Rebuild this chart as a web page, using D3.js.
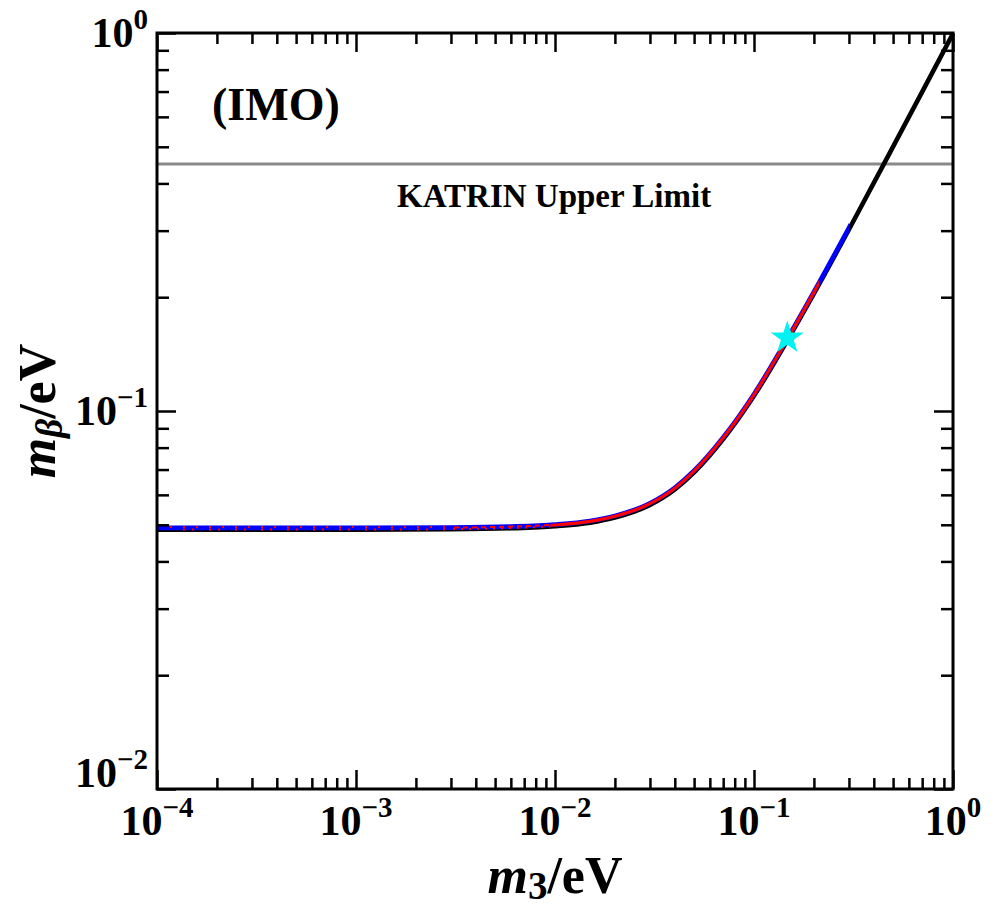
<!DOCTYPE html>
<html>
<head>
<meta charset="utf-8">
<script src="https://cdn.jsdelivr.net/npm/d3@7"></script>
<style>
  body { margin: 0; background: #fff; }
  text { font-family: "Liberation Serif", "Times New Roman", serif; font-weight: bold; fill: #000; }
</style>
</head>
<body>
<div id="chart"></div>
<script>
// lightest mass m3 (eV) and effective beta-decay mass m_beta (eV)
const m3Values    = [1e-4, 1e-3, 3e-3, 6e-3, 0.01, 0.015, 0.02, 0.03, 0.04, 0.05, 0.07, 0.1, 0.15, 0.2, 0.3, 0.5, 0.7, 1.0];
const mBetaValues = [0.0487, 0.0487, 0.0488, 0.0491, 0.0497, 0.0508, 0.0524, 0.0566, 0.0622, 0.0690, 0.0845, 0.110, 0.157, 0.205, 0.303, 0.502, 0.701, 1.0];

// coloured parts of the band (m3 ranges)
const blueRange = [1e-4, 0.30];
const redRange = [0.0095, 0.212];
const redSparseRange = [1.15e-4, 3e-3];
const redDenseRange = [3e-3, 0.0095];

const katrinLimit = 0.45;
const starPoint = {m3: 0.147, mb: 0.156};

const xExponents = [-4, -3, -2, -1, 0];
const yExponents = [-2, -1, 0];

const W = 997, H = 907;
const margin = {top: 33, right: 44, bottom: 118, left: 157};
const width = W - margin.left - margin.right,
  height = H - margin.top - margin.bottom;

const svg = d3.select("#chart")
  .append("svg")
  .attr("width", W)
  .attr("height", H);

const g = svg.append("g")
  .attr("transform", `translate(${margin.left},${margin.top})`);

const x = d3.scaleLog().domain([1e-4, 1]).range([0, width]);
const y = d3.scaleLog().domain([1e-2, 1]).range([height, 0]);

const data = m3Values.map((d, i) => ({m3: d, mb: mBetaValues[i]}));

const line = d3.line()
  .x(d => x(d.m3))
  .y(d => y(d.mb))
  .curve(d3.curveMonotoneX);

// clip paths for the coloured pieces
const defs = svg.append("defs");
function clipFor(id, range) {
  defs.append("clipPath").attr("id", id)
    .append("rect")
    .attr("x", x(range[0]))
    .attr("width", x(range[1]) - x(range[0]))
    .attr("y", -20)
    .attr("height", height + 40);
}
clipFor("clipBlue", blueRange);
clipFor("clipRed", redRange);
clipFor("clipRedSparse", redSparseRange);
clipFor("clipRedDense", redDenseRange);
defs.append("clipPath").attr("id", "clipPlot")
  .append("rect").attr("width", width).attr("height", height);

// KATRIN upper limit
g.append("line")
  .attr("x1", 0).attr("x2", width)
  .attr("y1", y(katrinLimit)).attr("y2", y(katrinLimit))
  .attr("stroke", "#8a8a8a")
  .attr("stroke-width", 3);

g.append("text")
  .attr("x", 240)
  .attr("y", 174)
  .style("font-size", "33px")
  .text("KATRIN Upper Limit");

g.append("text")
  .attr("x", 55)
  .attr("y", 87)
  .style("font-size", "46px")
  .text("(IMO)");

const curves = g.append("g").attr("clip-path", "url(#clipPlot)");

function drawPiece(clip, color, w, dash, dy) {
  const p = curves.append("g").attr("clip-path", clip ? `url(#${clip})` : null)
    .append("path")
    .datum(data)
    .attr("transform", `translate(0,${dy})`)
    .attr("fill", "none")
    .attr("stroke", color)
    .attr("stroke-width", w)
    .attr("d", line);
  if (dash) p.attr("stroke-dasharray", dash);
}

drawPiece(null, "#000", 4.6, null, 0.5);
drawPiece("clipBlue", "#0000ff", 4.6, null, -1.2);
drawPiece("clipRedSparse", "#ff0000", 2, "2,11", -2);
drawPiece("clipRedSparse", "#ff0000", 2, "2,7,2,15", 0.5);
drawPiece("clipRedDense", "#ff0000", 2, "5,4", -1.2);
drawPiece("clipRedDense", "#ff0000", 2, "2,6", 0.3);
drawPiece("clipRed", "#ff0000", 3.2, null, -0.8);

// best-fit star
g.append("path")
  .attr("d", d3.symbol().type(d3.symbolStar).size(340)())
  .attr("transform", `translate(${x(starPoint.m3)},${y(starPoint.mb)})`)
  .attr("fill", "#00f2f2");

// ticks on all four sides, pointing inward
const majorX = xExponents.map(e => Math.pow(10, e));
const majorY = yExponents.map(e => Math.pow(10, e));
function minors(exps) {
  const out = [];
  for (let i = 0; i < exps.length - 1; i++)
    for (let k = 2; k <= 9; k++) out.push(k * Math.pow(10, exps[i]));
  return out;
}
const minorX = minors(xExponents), minorY = minors(yExponents);

function tickAxis(axisFn, scale, vals, size, transform) {
  const a = g.append("g")
    .attr("transform", transform)
    .call(axisFn(scale).tickValues(vals).tickSize(size).tickSizeOuter(0).tickFormat(""));
  a.select(".domain").remove();
  a.selectAll(".tick line").attr("stroke", "#000").attr("stroke-width", 2.5);
}
tickAxis(d3.axisBottom, x, minorX, -11, `translate(0,${height})`);
tickAxis(d3.axisBottom, x, majorX, -19, `translate(0,${height})`);
tickAxis(d3.axisTop, x, minorX, -11, "translate(0,0)");
tickAxis(d3.axisTop, x, majorX, -19, "translate(0,0)");
tickAxis(d3.axisLeft, y, minorY, -12, "translate(0,0)");
tickAxis(d3.axisLeft, y, majorY, -19, "translate(0,0)");
tickAxis(d3.axisRight, y, minorY, -12, `translate(${width},0)`);
tickAxis(d3.axisRight, y, majorY, -19, `translate(${width},0)`);

// frame
g.append("rect")
  .attr("width", width)
  .attr("height", height)
  .attr("fill", "none")
  .attr("stroke", "#000")
  .attr("stroke-width", 3);

// tick labels 10^n
function powerLabel(sel, e) {
  sel.append("tspan").style("font-size", "42px").text("10");
  sel.append("tspan").style("font-size", "29px").attr("dy", -18)
    .text(e < 0 ? "\u2212" + (-e) : String(e));
}

g.append("g").selectAll("text")
  .data(xExponents)
  .join("text")
  .attr("x", d => x(Math.pow(10, d)))
  .attr("y", height + 46)
  .attr("text-anchor", "middle")
  .each(function (d) { powerLabel(d3.select(this), d); });

g.append("g").selectAll("text")
  .data(yExponents)
  .join("text")
  .attr("x", -9)
  .attr("y", d => y(Math.pow(10, d)) + (d === -2 ? -2 : 14))
  .attr("text-anchor", "end")
  .each(function (d) { powerLabel(d3.select(this), d); });

// axis titles
const xTitle = svg.append("text")
  .attr("x", margin.left + width / 2)
  .attr("y", 893)
  .attr("text-anchor", "middle")
  .style("font-size", "52px");
xTitle.append("tspan").style("font-style", "italic").text("m");
xTitle.append("tspan").style("font-size", "39px").attr("dy", 6).text("3");
xTitle.append("tspan").attr("dy", -6).text("/eV");

const yTitle = svg.append("text")
  .attr("transform", `translate(55,${margin.top + height / 2}) rotate(-90)`)
  .attr("text-anchor", "middle")
  .style("font-size", "52px");
yTitle.append("tspan").style("font-style", "italic").text("m");
yTitle.append("tspan").style("font-style", "italic").style("font-size", "37px").attr("dy", 7).text("\u03b2");
yTitle.append("tspan").attr("dy", -7).text("/eV");
</script>
</body>
</html>
